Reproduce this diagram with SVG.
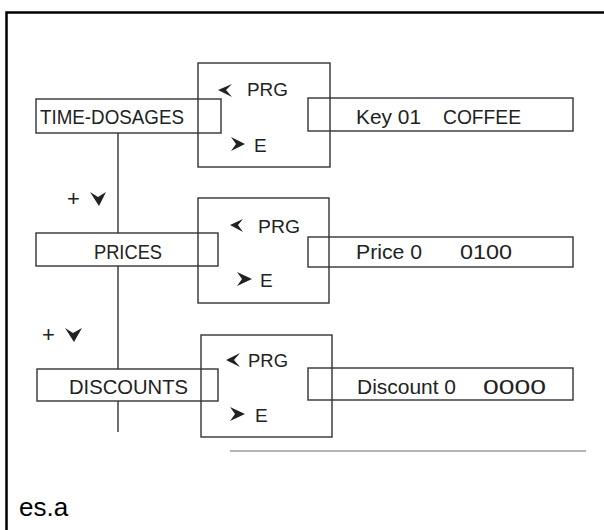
<svg xmlns="http://www.w3.org/2000/svg" width="604" height="530" viewBox="0 0 604 530">
<style>
.box{fill:none;stroke:#333;stroke-width:1.4}
.ln{stroke:#333;stroke-width:1.4;fill:none}
.t{font-family:"Liberation Sans",Arial,sans-serif;font-size:21px;fill:#222}
.s{font-family:"Liberation Sans",Arial,sans-serif;font-size:19px;fill:#222}
.p{font-family:"Liberation Sans",Arial,sans-serif;font-size:22px;fill:#222}
.dart{fill:#222}
</style>
<rect width="604" height="530" fill="#fff"/>
<path d="M6.5,540 V12.5 H620" fill="none" stroke="#000" stroke-width="2.5"/>
<g id="connectors">
<line class="ln" x1="118" y1="133" x2="118" y2="233"/>
<line class="ln" x1="118" y1="266" x2="118" y2="369"/>
<line class="ln" x1="118" y1="401" x2="118" y2="432"/>
<line x1="230" y1="451" x2="586" y2="451" stroke="#b5b5b5" stroke-width="2"/>
</g>
<g id="time-dosages">
<rect class="box" x="36" y="99" width="185" height="34"/>
<text class="t" x="40" y="124" textLength="144" lengthAdjust="spacingAndGlyphs">TIME-DOSAGES</text>
</g>
<g id="prg1">
<rect class="box" x="198" y="63" width="132" height="104"/>
<path class="dart" d="M218,90 L232,84 L226,90 L232,97 Z"/>
<text class="s" x="247" y="96" textLength="41" lengthAdjust="spacingAndGlyphs">PRG</text>
<path class="dart" d="M245,144 L231,137 L236,144 L231,151 Z"/>
<text class="s" x="254" y="152">E</text>
</g>
<g id="key">
<rect class="box" x="308" y="98" width="265" height="33"/>
<text class="t" x="356" y="124" textLength="65" lengthAdjust="spacingAndGlyphs">Key 01</text>
<text class="t" x="443" y="124" textLength="78" lengthAdjust="spacingAndGlyphs">COFFEE</text>
</g>
<g id="plus1">
<text class="p" x="67" y="206">+</text>
<path class="dart" d="M90,192 L98,197 L106,192 L99,206 Z"/>
</g>
<g id="prices">
<rect class="box" x="36" y="233" width="182" height="33"/>
<text class="t" x="94" y="259" textLength="68" lengthAdjust="spacingAndGlyphs">PRICES</text>
</g>
<g id="prg2">
<rect class="box" x="198" y="198" width="131" height="105"/>
<path class="dart" d="M230,225 L243,219 L238,225 L243,232 Z"/>
<text class="s" x="258" y="233" textLength="42" lengthAdjust="spacingAndGlyphs">PRG</text>
<path class="dart" d="M252,279 L237,272 L242,279 L237,286 Z"/>
<text class="s" x="260" y="287">E</text>
</g>
<g id="price">
<rect class="box" x="308" y="237" width="265" height="30"/>
<text class="t" x="356" y="259" textLength="66" lengthAdjust="spacingAndGlyphs">Price 0</text>
<text class="t" x="460" y="259" textLength="52" lengthAdjust="spacingAndGlyphs">0100</text>
</g>
<g id="plus2">
<text class="p" x="42" y="342">+</text>
<path class="dart" d="M65,328 L73,333 L82,328 L74,342 Z"/>
</g>
<g id="discounts">
<rect class="box" x="37" y="369" width="181" height="32"/>
<text class="t" x="69" y="394" textLength="119" lengthAdjust="spacingAndGlyphs">DISCOUNTS</text>
</g>
<g id="prg3">
<rect class="box" x="201" y="335" width="131" height="102"/>
<path class="dart" d="M226,360 L240,353 L234,360 L240,367 Z"/>
<text class="s" x="248" y="367" textLength="40" lengthAdjust="spacingAndGlyphs">PRG</text>
<path class="dart" d="M245,414 L230,407 L235,414 L230,421 Z"/>
<text class="s" x="255" y="422">E</text>
</g>
<g id="discount">
<rect class="box" x="308" y="368" width="265" height="32"/>
<text class="t" x="357" y="394" textLength="99" lengthAdjust="spacingAndGlyphs">Discount 0</text>
<text class="t" x="483" y="394" textLength="63" lengthAdjust="spacingAndGlyphs">0000</text>
</g>
<text x="19" y="516" font-family="Liberation Sans, Arial, sans-serif" font-size="26" fill="#000">es.a</text>
</svg>
